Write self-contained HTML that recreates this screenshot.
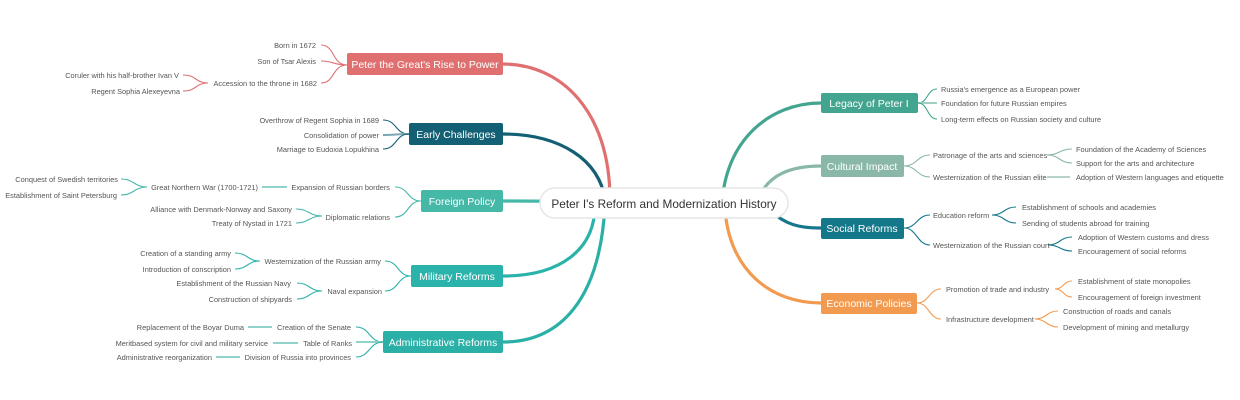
<!DOCTYPE html>
<html><head><meta charset="utf-8"><style>
body{margin:0;background:#fff}
svg{display:block}
text{font-family:"Liberation Sans",sans-serif}
.l{font-size:7.4px;fill:#555}
.r{text-anchor:end}
.n{font-size:10.5px;fill:#fff;text-anchor:middle}
path{fill:none}
</style></head><body>
<svg width="1240" height="400" viewBox="0 0 1240 400">
<g stroke-width="3.2" stroke-linecap="round">
<path stroke="#e07070" d="M610 200 C610 110 560 64 503 64"/>
<path stroke="#135f73" d="M605 200 C600 160 560 134 503 134"/>
<path stroke="#45b8a8" d="M600 202 C560 201 540 201 503 201"/>
<path stroke="#2ab3aa" d="M595 205 C595 250 560 276 503 276"/>
<path stroke="#2ab0a6" d="M605 205 C600 300 560 342 503 342"/>
<path stroke="#43a58f" d="M722 205 C725 140 770 103 821 103"/>
<path stroke="#8ab8a8" d="M760 195 C770 175 790 166 821 166"/>
<path stroke="#14778a" d="M770 210 C785 225 800 228 821 228"/>
<path stroke="#f29a50" d="M725 210 C730 270 770 303 821 303"/>
</g>
<rect x="540" y="188" width="248" height="30" rx="15" fill="#fff" stroke="#e6e6e6" stroke-width="1.5"/>
<text x="664" y="208" font-size="11.8" fill="#333" text-anchor="middle">Peter I's Reform and Modernization History</text>
<rect x="347" y="53" width="156" height="22" rx="2" fill="#e07070"/><text class="n" x="425" y="68">Peter the Great's Rise to Power</text>
<rect x="409" y="123" width="94" height="22" rx="2" fill="#135f73"/><text class="n" x="456" y="138">Early Challenges</text>
<rect x="421" y="190" width="82" height="22" rx="2" fill="#45b8a8"/><text class="n" x="462" y="205">Foreign Policy</text>
<rect x="411" y="265" width="92" height="22" rx="2" fill="#2ab3aa"/><text class="n" x="457" y="280">Military Reforms</text>
<rect x="383" y="331" width="120" height="22" rx="2" fill="#2ab0a6"/><text class="n" x="443" y="346">Administrative Reforms</text>
<rect x="821" y="93" width="97" height="20" rx="2" fill="#43a58f"/><text class="n" x="869" y="107">Legacy of Peter I</text>
<rect x="821" y="155" width="83" height="22" rx="2" fill="#8ab8a8"/><text class="n" x="862" y="170">Cultural Impact</text>
<rect x="821" y="218" width="83" height="21" rx="2" fill="#14778a"/><text class="n" x="862" y="232">Social Reforms</text>
<rect x="821" y="293" width="96" height="21" rx="2" fill="#f29a50"/><text class="n" x="869" y="307">Economic Policies</text>
<g stroke-width="1.1">
<g stroke="#e07070">
<path d="M347 65 C332 65 335 45 321 45"/><path d="M347 65 C332 65 335 61 321 61"/><path d="M347 65 C332 65 335 83 321 83"/>
<path d="M208 83 C195 83 197 75 183 75"/><path d="M208 83 C195 83 197 91 183 91"/>
</g>
<g stroke="#135f73">
<path d="M409 134 C395 134 397 120 383 120"/><path d="M409 134 C395 134 397 135 383 135" stroke="#7aa8b3" stroke-width="2"/><path d="M409 134 C395 134 397 149 383 149"/>
</g>
<g stroke="#45b8a8">
<path d="M421 201 C407 201 409 187 395 187"/><path d="M421 201 C407 201 409 217 395 217"/>
<path d="M262 187 L287 187" stroke="#8fd3ca" stroke-width="2"/>
<path d="M147 187 C134 187 134 179 121 179"/><path d="M147 187 C134 187 134 195 121 195"/>
<path d="M322 216 C309 216 309 209 296 209"/><path d="M322 216 C309 216 309 223 296 223"/>
</g>
<g stroke="#2ab3aa">
<path d="M411 276 C397 276 399 261 385 261"/><path d="M411 276 C397 276 399 291 385 291"/>
<path d="M260 261 C247 261 248 253 235 253"/><path d="M260 261 C247 261 248 269 235 269"/>
<path d="M322 291 C309 291 310 283 297 283"/><path d="M322 291 C309 291 310 299 297 299"/>
</g>
<g stroke="#2ab0a6">
<path d="M383 342 C369 342 370 327 356 327"/><path d="M383 342 L356 342" stroke="#8fd3ca" stroke-width="2"/><path d="M383 342 C369 342 370 357 356 357"/>
<path d="M248 327 L272 327" stroke="#8fd3ca" stroke-width="2"/><path d="M273 343 L298 343" stroke="#8fd3ca" stroke-width="2"/><path d="M216 357 L240 357" stroke="#8fd3ca" stroke-width="2"/>
</g>
<g stroke="#43a58f">
<path d="M918 103 C928 103 927 89 937 89"/><path d="M918 103 L937 103" stroke="#9fd0c3" stroke-width="2"/><path d="M918 103 C928 103 927 119 937 119"/>
</g>
<g stroke="#8ab8a8">
<path d="M904 166 C917 166 917 155 930 155"/><path d="M904 166 C917 166 917 177 930 177"/>
<path d="M1047 155 C1060 155 1059 149 1072 149"/><path d="M1047 155 C1060 155 1059 163 1072 163"/>
<path d="M1047 177 L1070 177" stroke="#b5d3c9" stroke-width="2"/>
</g>
<g stroke="#14778a">
<path d="M904 228 C917 228 917 215 930 215"/><path d="M904 228 C917 228 917 245 930 245"/>
<path d="M992 215 C1004 215 1004 207 1016 207"/><path d="M992 215 C1004 215 1004 223 1016 223"/>
<path d="M1048 245 C1060 245 1060 237 1072 237"/><path d="M1048 245 C1060 245 1060 251 1072 251"/>
</g>
<g stroke="#f29a50">
<path d="M917 303 C929 303 929 289 941 289"/><path d="M917 303 C929 303 929 319 941 319"/>
<path d="M1055 289 C1064 289 1063 281 1072 281"/><path d="M1055 289 C1064 289 1063 297 1072 297"/>
<path d="M1035 319 C1046 319 1047 311 1058 311"/><path d="M1035 319 C1046 319 1047 327 1058 327"/>
</g>
</g>
<g class="l r">
<text x="316" y="48">Born in 1672</text>
<text x="316" y="64">Son of Tsar Alexis</text>
<text x="317" y="86">Accession to the throne in 1682</text>
<text x="179" y="78">Coruler with his half-brother Ivan V</text>
<text x="180" y="94">Regent Sophia Alexeyevna</text>
<text x="379" y="123">Overthrow of Regent Sophia in 1689</text>
<text x="379" y="138">Consolidation of power</text>
<text x="379" y="152">Marriage to Eudoxia Lopukhina</text>
<text x="390" y="190">Expansion of Russian borders</text>
<text x="390" y="220">Diplomatic relations</text>
<text x="258" y="190">Great Northern War (1700-1721)</text>
<text x="118" y="182">Conquest of Swedish territories</text>
<text x="117" y="198">Establishment of Saint Petersburg</text>
<text x="292" y="212">Alliance with Denmark-Norway and Saxony</text>
<text x="292" y="226">Treaty of Nystad in 1721</text>
<text x="381" y="264">Westernization of the Russian army</text>
<text x="382" y="294">Naval expansion</text>
<text x="231" y="256">Creation of a standing army</text>
<text x="231" y="272">Introduction of conscription</text>
<text x="291" y="286">Establishment of the Russian Navy</text>
<text x="292" y="302">Construction of shipyards</text>
<text x="351" y="330">Creation of the Senate</text>
<text x="352" y="346">Table of Ranks</text>
<text x="351" y="360">Division of Russia into provinces</text>
<text x="244" y="330">Replacement of the Boyar Duma</text>
<text x="268" y="346">Meritbased system for civil and military service</text>
<text x="212" y="360">Administrative reorganization</text>
</g>
<g class="l">
<text x="941" y="92">Russia's emergence as a European power</text>
<text x="941" y="106">Foundation for future Russian empires</text>
<text x="941" y="122">Long-term effects on Russian society and culture</text>
<text x="933" y="158">Patronage of the arts and sciences</text>
<text x="933" y="180">Westernization of the Russian elite</text>
<text x="1076" y="152">Foundation of the Academy of Sciences</text>
<text x="1076" y="166">Support for the arts and architecture</text>
<text x="1076" y="180">Adoption of Western languages and etiquette</text>
<text x="933" y="218">Education reform</text>
<text x="933" y="248">Westernization of the Russian court</text>
<text x="1022" y="210">Establishment of schools and academies</text>
<text x="1022" y="226">Sending of students abroad for training</text>
<text x="1078" y="240">Adoption of Western customs and dress</text>
<text x="1078" y="254">Encouragement of social reforms</text>
<text x="946" y="292">Promotion of trade and industry</text>
<text x="946" y="322">Infrastructure development</text>
<text x="1078" y="284">Establishment of state monopolies</text>
<text x="1078" y="300">Encouragement of foreign investment</text>
<text x="1063" y="314">Construction of roads and canals</text>
<text x="1063" y="330">Development of mining and metallurgy</text>
</g>
</svg>
</body></html>
